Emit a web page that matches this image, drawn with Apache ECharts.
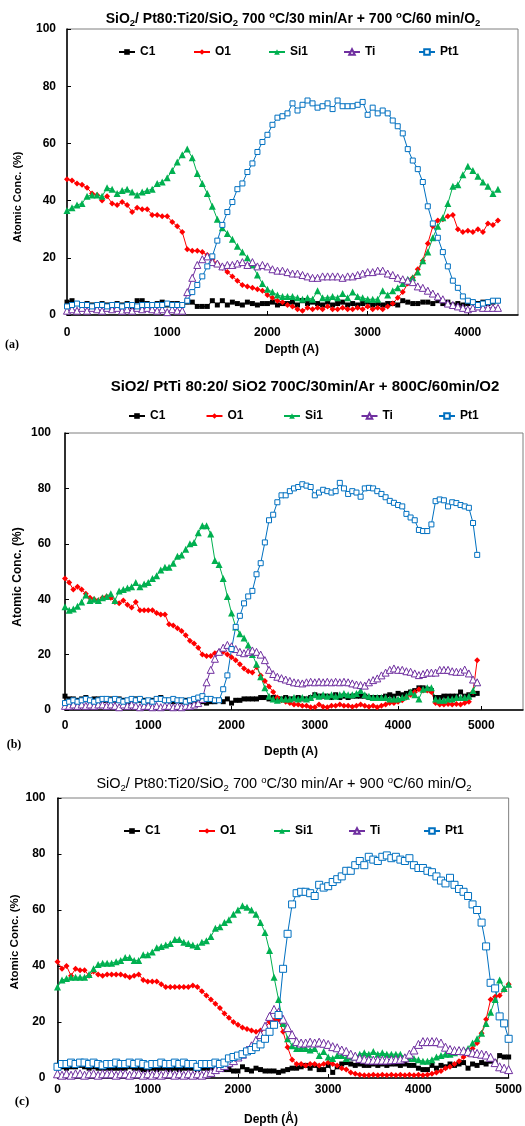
<!DOCTYPE html>
<html>
<head>
<meta charset="utf-8">
<title>AES depth profiles</title>
<script src="https://cdn.jsdelivr.net/npm/echarts@6/dist/echarts.min.js"></script>
<style>
html, body { margin: 0; padding: 0; background: #fff; }
#chart { width: 525px; height: 1126px; }
</style>
</head>
<body>
<div id="chart"></div>
<script>
// sputter depth (A), one step per AES cycle
var depth = [0,50,100,150,200,250,300,350,400,450,500,550,600,650,700,750,800,850,900,950,
    1000,1050,1100,1150,1200,1250,1300,1350,1400,1450,1500,1550,1600,1650,1700,1750,1800,1850,1900,1950,
    2000,2050,2100,2150,2200,2250,2300,2350,2400,2450,2500,2550,2600,2650,2700,2750,2800,2850,2900,2950,
    3000,3050,3100,3150,3200,3250,3300,3350,3400,3450,3500,3550,3600,3650,3700,3750,3800,3850,3900,3950,
    4000,4050,4100,4150,4200,4250,4300,4350,4400,4450,4500,4550,4600,4650,4700,4750,4800,4850,4900,4950,5000];

var names = ['C1', 'O1', 'Si1', 'Ti', 'Pt1'];

// (a) 700C Ar + 700C O2
var c1A = [4.5,5,4,3.5,4,3.5,3.5,4,3.5,3.5, 4,3.5,4,3,5,5,4,3.5,4,4.5, 3.5,4,4,3.5,4.5,4.5,3,3,3,5,
    3.5,5,3.5,4.5,4,3.5,4.5,4,3.5,4, 4,4.5,3.5,4,4,4.5,3.5,5,4,4.5, 4,3.5,4.5,3.5,4,4.5,3.5,4,3.5,4,
    4.5,3.5,4,3.5,4,4,3.5,5,4.5,4, 4,4.5,4.5,4,5,4,4.5,3.5,4,3.5, 4,4.5,4,4.5,4,4.5,5];
var o1A = [47.5,47,46,45.5,44.5,42.5,42,40,41.5,39, 38.5,39.5,38.5,36,37.5,37,37,35,35,34.5,
    34.5,32.5,31,29,23,22.5,22.5,22,21,19.5, 18,16.5,15,13.5,12,10.5,10,9.5,9,8.5,
    7,6,5,4.5,3.5,3,2,1.5,2.5,2, 2.5,2,3,2,2,2.5,2,2,2.5,2,
    3,2,2.5,2,3,4,6,8,11,13, 16,19,25,31,33,33.5,34.5,35,30,29, 29.5,29,30,29,32,31.5,33];
var si1A = [36.5,37.5,38.5,39,41.5,42,42,41.5,44.5,44, 42.5,43.5,44,43,42,43,43.5,44,46,46.5,
    48,50.5,53.5,56,58,55,49.5,46,42.5,38, 33.5,30.5,28.5,26.5,24,22,20,17.5,14,11,
    9,8,7,6.5,6.5,6.5,6,5.5,6,5.5, 8.5,6,6,6.5,6,7.5,6,8,6.5,6,
    5.5,5.5,5.5,8.5,7,8.5,9.5,11,12.5,13, 15,19,22,27,31,34,39,45,45.5,49, 52,50.5,48.5,46.5,45,42.5,44];
var tiA = [1.5,2,1.5,2.5,1.5,2.5,2,1.5,2.5,2, 2.5,1.5,2,1.5,2.5,2,2.5,2,1.5,2,
    1,2,1.5,1.5,8,13,17.5,19.5,20.5,18.5, 18,17,17.5,17.5,18,18.5,17.5,18.5,17,17.5,
    17,16,15.5,15.5,15,14.5,14.5,14,13.5,13, 13,13.5,13.5,13.5,13.5,13,13.5,13.5,14,14.5,
    15,15,15.5,15.5,14.5,14,13,12.5,12,11.5, 10,9.5,8.5,7.5,6.5,5.5,4,3.5,3,2.5, 2,2.5,3,2.5,2.5,2.5,2.5];
var pt1A = [3,3.5,4,3.5,3.5,3,3.5,3.5,3,3.5, 3.5,3,3.5,3.5,3,3.5,3.5,3.5,3.5,3.5,
    4,3.5,3.5,3.5,5,8,10.5,13.5,17,20.5, 26,31.5,36,39.5,44,46,50,53,57,60.5,
    63,66.5,69,69.5,70.5,74,71.5,73.5,75,74, 72.5,73,74,72,75,73,73,73,73.5,74.5,
    70,72.5,70.5,71.5,70.5,68,66,63.5,58,54, 51,46.5,38,32,27,22,17,12,9.5,6.5, 5,4.5,3.5,4,4.5,5,5];

// (b) 700C Ar + 800C O2
var c1B = [5,4,4,3.5,4,4.5,3.5,4,4,3.5, 3.5,4,3.5,4,3.5,3,3.5,4,3.5,3.5, 3,3.5,4,4.5,3.5,3.5,3,3.5,3,3.5,
    3,3.5,3.5,3,2.5,3,3,3.5,3,4, 2.5,3.5,3.5,4,4,4,4,4.5,4.5,4, 4.5,4,4,4.5,4,4,4.5,4,4,4.5,
    5.5,5,5,5,4.5,5.5,4.5,5,4.5,5, 5,5,5,4.5,4.5,4.5,4.5,5,5.5,5, 6,5.5,6,6.5,7,8,8,7.5,7,4.5,
    4.5,5,5,5,5,6.5,5,5.5,5.5,6];
var o1B = [47.5,46,43.5,44.5,43.5,42,40.5,40,39.5,40.5, 41,40.5,39,38.5,39.5,38,37,39,36,36,
    36,36,35,34.5,34.5,31,30.5,29.5,28.5,27, 25,24,22.5,20,19.5,19.5,20.5,21,21,20,
    19,18,16.5,15,14,13.5,15.5,12.5,10.5,8.5, 6.5,4.5,3.5,3,2.5,2,2,1.5,1.5,1,
    1,2,1.2,1,1.5,1.5,2,1.5,1.5,1.2, 1.5,2,1.5,1.2,1.5,1,1.5,2,2.5,2.5,
    3,3.5,4.5,5.5,6.5,7.5,7,7,6.5,2.5, 2,2,2.2,2,2.2,2,2.5,3,6.5,18];
var si1B = [37.3,36,36.5,37.5,39,41.5,39.5,40,39.5,40.5, 41,42,39.5,43,43.5,44,44.5,46,44.5,45.5,
    46,47.5,48.5,50.5,51.5,51.5,53,55.5,56,58, 60,60.5,64,66.5,66.5,63.5,54,52.5,47.5,41,
    35,30,27.5,26,23.5,20,16.5,12,8,5, 4,3.5,4,4,4,4.5,4,4.5,4,4.5,
    5.5,5,5.5,5,5.5,5,5.5,6,5.5,5.5, 6,7,5.5,5,4.5,4.5,4.5,4.5,4,4,
    4,4.5,5,6.5,5.5,4,7.5,8,8,4, 3.5,3.5,4,4,4.5,4.5,4.5,5,7,10];
var tiB = [1.5,1.5,2,1.5,2,1.5,2,1.5,2,2, 1.5,2,1.5,1,2,1.5,2,1.5,1,1.5, 1.5,1,1.5,1,1.5,1.5,1,1.5,1,1.5,
    1.5,2,2.5,4,10,14.5,18.5,21,22.5,23.5, 23,22,21,20.5,21,21.5,21,20,18,14.5,
    13,12,11.5,11,10.5,10,9.8,9.6,10,10.2, 10,10.2,10,10.2,10,10.2,10,10.2,10,9.6,
    9.2,9,8.8,10,10.8,11.4,12.5,13.5,14.5,15, 14.5,14.5,14,13.8,13.2,12.6,13,13.5,13.5,13.5,
    14.5,14.5,14.5,14,13.8,13.8,14.6,13.2,11,10];
var pt1B = [2.5,3,3.5,3,3.5,4,3.5,3,3.5,4, 4,3.5,4,3.5,3,3.5,4,3.5,4,3, 3.5,3,4,4,3.5,3.5,4,3.5,3.5,3,
    3.5,4,4.5,5,4,4,3.5,3.5,7.5,12.5, 22,30,34,38.5,41,43,49,53,60.5,68.5,
    70.5,75,77.5,77.5,79,80,80.5,81.5,81,80.5, 77.5,78.5,79.5,79,78.5,79,82,80,78,79,
    78.5,77,80,80.2,80,79,78,76.8,75.5,74.8, 74,73.5,70.8,69.5,68.5,65,64.6,64.6,67,75.4,
    76,75.7,73.5,75,74.7,74,73.5,73,67.5,56];

// (c) 700C Ar + 900C O2
var c1C = [4.5,4,3.5,4,4,4.5,4,3.5,4,3.5, 3.5,3.5,3.5,3.5,3.5,3.5,4,3.5,3.5,3, 3,3.5,3,3.5,3.5,3,3.5,3,3.5,3.5,
    3.5,3,3.5,3.5,3.5,3.5,3.5,3,3,2.5, 2.5,4,3,2.5,3.5,3,2.5,2.5,2.5,2, 2.5,3,3.5,3.5,4,4.5,3.5,4.5,3,3,
    4.5,2,4,5,5.5,5,4.5,5,4.5,4.5, 5,4.5,5,4.5,5,5,4.5,5,4.5,4.5, 3.5,3,3,4.5,3.5,4.5,4,5,4.5,5,
    5.5,3.5,5,4.5,5.5,5,6,5.5,8,7.5, 7.5];
var o1C = [41.5,39,40,36.5,39,38.5,38.5,36.5,38,37, 36.5,37,37,37,37,36.5,36,36.5,37,35,
    34.5,34.5,34.5,33.5,32.5,32.5,32.5,32.5,32.5,32.5, 33,32.5,31,29.5,28,26.5,25,23,21.5,20,
    19,18,17.5,17,16.5,17,18,20,20.5,21, 16.5,11,6.5,5,5,4.5,5,5,4.5,5,
    5.5,5,4.5,3.5,3,2,1.5,1.2,1,1, 1.2,1,1.2,1,1.2,1,1.2,1,1.2,1,
    1.2,1,1.2,1.5,2,2.5,3.5,4,5,6, 7.5,8.5,10.5,12.5,16,21,28,29,29.5,31.5, 33.5];
var si1C = [32.5,35,35.5,36,36,36,36,37,39,40.5, 41,41,41,41.5,42,43,43,42,42,44,
    44,45,46.5,47,47.5,48,49.5,49.5,48.5,48, 47.5,47,48.5,49,50.5,53.5,54,55.5,56.5,58.5,
    60,61.5,61,60,58.5,55.5,52,45.5,36,28, 19.5,14,11.5,10.5,10.5,10.5,10,10.5,8,9.5,
    7.5,7,8,8,7,7.5,7.5,8.5,9,8.5, 9.5,8.5,9,8.5,8.5,8.5,8.5,7.5,7,7,
    6.5,6,6,6.5,7.5,8,8.5,8.5,9,9.5, 10,10.5,12.5,14,16,19.5,23.5,28,35,32, 33.5];
var tiC = [1.5,1,1.5,1,1.5,1.5,1,1.5,1.5,1, 1.5,1.5,1.5,1,1.5,1.5,1,1.5,1.5,1, 1.5,1,1.5,1,1.5,1.5,1,1.5,1,1.5,
    1,1.5,1,1.5,2,3,3.8,4.5,5.5,6.2, 7.5,8.5,10,11.5,13.5,15.5,18.5,22,24.5,23.5,
    21,18,15.5,13,12.5,12.5,12.8,12.5,12.8,12.4, 12,11.2,10.8,10,9.5,8.5,7.8,7,6.7,6.4,
    6.4,6.4,6.4,6.4,6.5,6.6,6.7,7.2,8.5,10, 12,13,13,13,13,12.5,11,10.2,9.8,9.8,
    9.7,9.5,9,8.8,8.5,8.2,7.4,5.5,4,3.5, 3];
var pt1C = [4,5,5,5.5,5,5.5,5.5,5,5.5,5, 4.5,5,5,5.5,5,5,5.5,5,5.5,5, 4.5,5,5,5.5,5,5,5.5,5,5.5,5,
    5,4,5,5,5,5.5,5,5.5,7,7.5, 8,8.5,9.5,10,11,12,14,16.5,19,22.5,
    39,51.5,62,66,66.5,66.5,66,65,69,68, 68.5,70,71,72,74,74,76,77.5,76,79,
    78,77.5,79,79.5,78.5,79,78,77.5,78.5,76, 75,75,74,73.5,72,70.5,69.5,71.5,69,67.5,
    66.5,65,62,60,55.5,47,34,32,22,19.5, 14];

var colors = ['#000000', '#ff0000', '#00b050', '#7030a0', '#0070c0'];
var symbols = ['rect', 'diamond', 'triangle', 'triangle', 'rect'];
var hollow = [false, false, false, true, true];
var font = 'Liberation Sans, Arial, sans-serif';
var serif = 'Liberation Serif, Times New Roman, serif';

function pairs(vals) {
    var out = [];
    for (var i = 0; i < vals.length; i++) {
        out.push([depth[i], vals[i]]);
    }
    return out;
}

function panelSeries(idx, sets, sizes) {
    var list = [];
    for (var k = 0; k < sets.length; k++) {
        list.push({
            name: names[k],
            type: 'line',
            xAxisIndex: idx,
            yAxisIndex: idx,
            data: pairs(sets[k]),
            symbol: symbols[k],
            symbolSize: sizes[k],
            showAllSymbol: true,
            lineStyle: {color: colors[k], width: 1},
            itemStyle: hollow[k]
                ? {color: '#ffffff', borderColor: colors[k], borderWidth: 1}
                : {color: colors[k]},
            emphasis: {disabled: true}
        });
    }
    return list;
}

function plain(v) {
    return String(v);
}

function xAxisOf(idx, max, margin, showMax) {
    return {
        gridIndex: idx, type: 'value', min: 0, max: max, interval: 1000,
        axisLine: {show: true, onZero: false, lineStyle: {color: '#000', width: 1.5}},
        axisTick: {show: true, inside: true, length: 4, lineStyle: {color: '#000'}},
        axisLabel: {margin: margin, color: '#000', fontSize: 12, fontWeight: 'bold', fontFamily: font,
            showMaxLabel: showMax, formatter: plain},
        splitLine: {show: false}
    };
}

function yAxisOf(idx, margin) {
    return {
        gridIndex: idx, type: 'value', min: 0, max: 100, interval: 20,
        axisLine: {show: true, lineStyle: {color: '#000', width: 1.5}},
        axisTick: {show: true, inside: true, length: 4, lineStyle: {color: '#000'}},
        axisLabel: {margin: margin, color: '#000', fontSize: 12, fontWeight: 'bold', fontFamily: font},
        splitLine: {show: false}
    };
}

// one legend box per entry, so the entries sit on an even pitch like the original
function legendRow(left, top, step) {
    var row = [];
    for (var k = 0; k < names.length; k++) {
        row.push({
            data: [names[k]], left: left + k * step, top: top,
            itemWidth: 16, itemHeight: 7, itemGap: 5,
            textStyle: {color: '#000', fontSize: 12, fontWeight: 'bold', fontFamily: font},
            selectedMode: false
        });
    }
    return row;
}

var subRich = {
    sub: {fontSize: 9.5, fontWeight: 'bold', fontFamily: font, lineHeight: 9, verticalAlign: 'bottom'},
    sup: {fontSize: 9.5, fontWeight: 'bold', fontFamily: font, lineHeight: 9, verticalAlign: 'top'},
    subN: {fontSize: 9.5, fontFamily: font, lineHeight: 9, verticalAlign: 'bottom'},
    supN: {fontSize: 9.5, fontFamily: font, lineHeight: 9, verticalAlign: 'top'}
};

function label(text, x, y, size, rot, fam) {
    return {
        type: 'text', x: x, y: y, rotation: rot || 0,
        style: {text: text, fill: '#000', font: 'bold ' + size + 'px ' + (fam || font),
            align: 'center', verticalAlign: 'middle', textAlign: 'center', textVerticalAlign: 'middle'}
    };
}

var chart = echarts.init(document.getElementById('chart'));
var option = {
    animation: false,
    backgroundColor: '#fff',
    title: [
        {
            text: 'SiO{sub|2}/ Pt80:Ti20/SiO{sub|2} 700 {sup|o}C/30 min/Ar + 700 {sup|o}C/60 min/O{sub|2}',
            left: 288, top: 5, textAlign: 'center',
            textStyle: {fontSize: 14, fontWeight: 'bold', fontFamily: font, color: '#000', lineHeight: 18, rich: subRich}
        },
        {
            text: 'SiO2/ PtTi 80:20/ SiO2 700C/30min/Ar + 800C/60min/O2',
            left: 300, top: 374, textAlign: 'center',
            textStyle: {fontSize: 15, fontWeight: 'bold', fontFamily: font, color: '#000'}
        },
        {
            text: 'SiO{subN|2}/ Pt80:Ti20/SiO{subN|2} 700 {supN|o}C/30 min/Ar + 900 {supN|o}C/60 min/O{subN|2}',
            left: 279, top: 770, textAlign: 'center',
            textStyle: {fontSize: 14.5, fontWeight: 'normal', fontFamily: font, color: '#000', lineHeight: 18, rich: subRich}
        }
    ],
    legend: [].concat(legendRow(113, 41, 75), legendRow(123, 405, 77.5), legendRow(118, 820, 75)),
    grid: [
        {left: 67, top: 29, width: 451, height: 286, show: true, borderColor: '#7f7f7f', borderWidth: 1},
        {left: 65, top: 433, width: 458, height: 277, show: true, borderColor: '#7f7f7f', borderWidth: 1},
        {left: 57.5, top: 798, width: 459, height: 280, show: true, borderColor: '#7f7f7f', borderWidth: 1}
    ],
    xAxis: [xAxisOf(0, 4500, 12, false), xAxisOf(1, 5500, 10, false), xAxisOf(2, 5000, 6, true)],
    yAxis: [yAxisOf(0, 11), yAxisOf(1, 14), yAxisOf(2, 12)],
    graphic: [
        label('Atomic Conc. (%)', 18, 197, 11, Math.PI / 2),
        label('Atomic Conc. (%)', 18, 577, 12, Math.PI / 2),
        label('Atomic Conc. (%)', 15, 942, 11.5, Math.PI / 2),
        label('Depth (A)', 292, 350, 12),
        label('Depth (A)', 291, 752, 12),
        label('Depth (\u00c5)', 271, 1120, 12),
        label('(a)', 12, 345, 12, 0, serif),
        label('(b)', 14, 745, 12, 0, serif),
        label('(c)', 22, 1102, 13, 0, serif)
    ],
    series: [].concat(
        panelSeries(0, [c1A, o1A, si1A, tiA, pt1A], [5, 6, 7, 7, 5]),
        panelSeries(1, [c1B, o1B, si1B, tiB, pt1B], [5, 6, 7, 7, 5]),
        panelSeries(2, [c1C, o1C, si1C, tiC, pt1C], [5, 6, 7, 8, 7])
    )
};
chart.setOption(option);
</script>
</body>
</html>
